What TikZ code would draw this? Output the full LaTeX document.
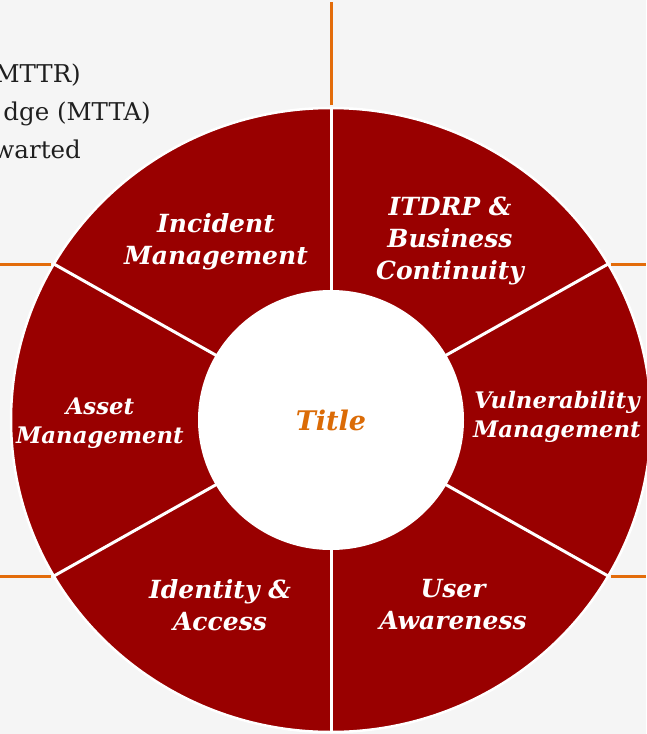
\documentclass[tikz,border=0pt]{standalone}
\usepackage{fontspec}
\setmainfont{DejaVu Serif}
\usetikzlibrary{calc}
\definecolor{ringred}{HTML}{990000}
\definecolor{tickorange}{HTML}{E36C0A}
\definecolor{titleorange}{HTML}{DB6B06}
\definecolor{pagegray}{HTML}{F5F5F5}
\begin{document}
\begin{tikzpicture}[x=1pt, y=-1pt,
    seg/.style={text=white, align=center, inner sep=0pt,
      font=\bfseries\itshape\fontsize{25}{32}\selectfont},
    segsmall/.style={seg, font=\bfseries\itshape\fontsize{22.8}{29}\selectfont},
    divider/.style={draw=white, line width=3pt},
    tick/.style={draw=tickorange, line width=3pt},
    note/.style={anchor=base east, inner sep=0pt, text=black!88,
      font=\fontsize{24.5}{30}\selectfont}]
  \fill[pagegray] (0,0) rectangle (646,734);
  \useasboundingbox (0,0) rectangle (646,734);
  % notes cut off on the left
  \node[note] (mttr) at (81,82) {MTTR)};
  \node[note] (mtta) at (151,120) {dge (MTTA)};
  \node[note] (warted) at (81,158) {warted};
  % ring
  \coordinate (c) at (331,420);
  \fill[ringred, draw=white, line width=2.5pt] (c) circle[x radius=320, y radius=312];
  \foreach \a/\n in {270/top, 330/ur, 30/lr, 90/bot, 150/ll, 210/ul}
    \draw[divider] (c) -- ($(c)+(\a:320 and 312)$) coordinate (o\n);
  \fill[white] (c) circle[x radius=133, y radius=130];
  % orange ticks
  \coordinate (topend) at (331,2);
  \coordinate (ulend) at (0,264);
  \coordinate (llend) at (0,576);
  \coordinate (urend) at (646,264);
  \coordinate (lrend) at (646,576);
  \draw[tick] ([yshift=3pt]otop) -- (topend);
  \draw[tick] ([xshift=-3pt]oul) -- (ulend);
  \draw[tick] ([xshift=-3pt]oll) -- (llend);
  \draw[tick] ([xshift=3pt]our) -- (urend);
  \draw[tick] ([xshift=3pt]olr) -- (lrend);
  % labels
  \node[seg] (incident) at (216,242) {Incident\\Management};
  \node[seg] (itdrp) at (450,241) {ITDRP \&\\Business\\Continuity};
  \node[segsmall] (asset) at (100,423) {Asset\\Management};
  \node[segsmall] (vuln) at (557,417) {Vulnerability\\Management};
  \node[seg] (identity) at (220,605) {Identity \&\\Access};
  \node[seg] (user) at (453,605) {User\\Awareness};
  \node[text=titleorange, font=\bfseries\itshape\fontsize{27}{30}\selectfont] (title) at (c) {Title};
\end{tikzpicture}
\end{document}
